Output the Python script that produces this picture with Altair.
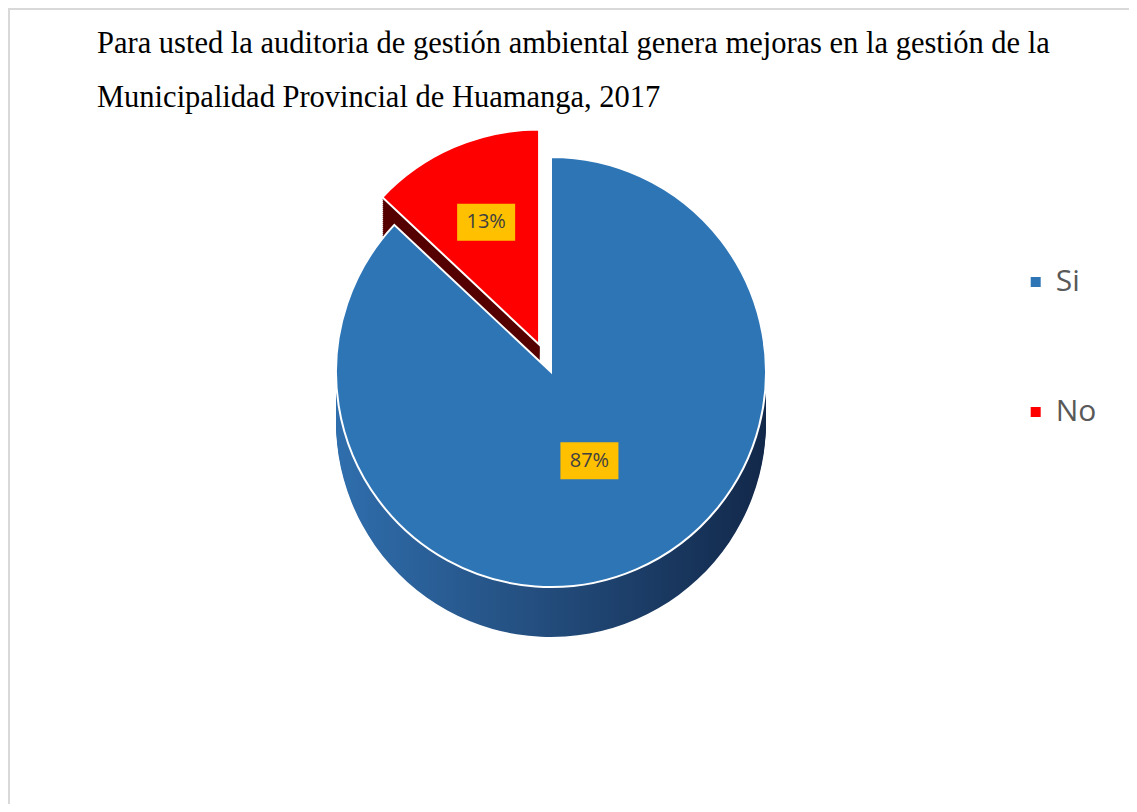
import math
import altair as alt
import pandas as pd

# ---- data ----
categories = ["Si", "No"]
values = [87, 13]
labels = ["87%", "13%"]
order = [0, 1]
top_colors = ["#2E75B6", "#FF0000"]
title_lines = [
    "Para usted la auditoria de gestión ambiental genera mejoras en la gestión de la",
    "Municipalidad Provincial de Huamanga, 2017",
]

df = pd.DataFrame({"cat": categories, "val": values, "label": labels, "order": order})

# ---- layout / style ----
W, H = 1121, 796
CX, CY = 543, 364
R = 215
DEPTH = 50
EXPLODE = 30
total = sum(values)

start_no = values[0] / total * 360
mid_no = math.radians(start_no + values[1] / total * 360 / 2)
EX = EXPLODE * math.sin(mid_no)
EY = -EXPLODE * math.cos(mid_no)
centers = {"Si": (CX, CY), "No": (CX + EX, CY + EY)}
label_frac = {"Si": 0.45, "No": 0.62}

side_fill = {
    "Si": alt.LinearGradient(
        gradient="linear",
        stops=[
            alt.GradientStop(color="#2F6EAD", offset=0),
            alt.GradientStop(color="#244F80", offset=0.45),
            alt.GradientStop(color="#12284A", offset=1),
        ],
        x1=0, x2=1, y1=0, y2=0,
    ),
    "No": "#560000",
}

theta_scale = alt.Scale(domain=[0, total], range=[0, 2 * math.pi])
color_scale = alt.Scale(domain=categories, range=top_colors)

base = alt.Chart(df).transform_window(
    cum="sum(val)", sort=[alt.SortField("order", order="ascending")], frame=[None, 0]
).transform_calculate(
    start="datum.cum - datum.val",
    end="datum.cum",
    mid="datum.cum - datum.val / 2",
)

theta_enc = dict(
    theta=alt.Theta("start:Q", scale=theta_scale),
    theta2=alt.Theta2("end:Q"),
)

layers = []

# border (top and left edges visible in reference)
blank = alt.Data(values=[{"k": 1}])
layers.append(
    alt.Chart(blank).mark_rule(color="#D9D9D9", strokeWidth=2).encode(
        x=alt.value(0), x2=alt.value(W), y=alt.value(1)
    )
)
layers.append(
    alt.Chart(blank).mark_rule(color="#D9D9D9", strokeWidth=2).encode(
        x=alt.value(1), y=alt.value(0), y2=alt.value(H)
    )
)

def slice_layers(cat):
    cx, cy = centers[cat]
    sub = base.transform_filter(alt.datum.cat == cat)
    out = []
    for d in range(DEPTH, 0, -2):
        out.append(
            sub.mark_arc(radius=R, fill=side_fill[cat]).encode(
                x=alt.value(cx), y=alt.value(cy + d), **theta_enc
            )
        )
    out.append(
        sub.mark_arc(radius=R, stroke="white", strokeWidth=2).encode(
            x=alt.value(cx),
            y=alt.value(cy),
            color=alt.Color(
                "cat:N",
                scale=color_scale,
                legend=alt.Legend(
                    title=None,
                    orient="none",
                    legendX=1012.7,
                    legendY=259,
                    symbolType="square",
                    symbolSize=100,
                    symbolStrokeWidth=0,
                    labelFont="Open Sans",
                    labelFontSize=30,
                    labelColor="#595959",
                    labelOffset=5,
                    rowPadding=100,
                ),
            ),
            **theta_enc,
        )
    )
    return out

for c in ["No", "Si"]:
    layers.extend(slice_layers(c))

# data labels with gold boxes
for c in categories:
    cx, cy = centers[c]
    rr = label_frac[c] * R
    lab = base.transform_filter(alt.datum.cat == c).transform_calculate(
        lx=f"{cx} + {rr} * sin(datum.mid / {total} * 2 * PI)",
        ly=f"{cy} - {rr} * cos(datum.mid / {total} * 2 * PI)",
    ).transform_calculate(
        bx1="datum.lx - 29", bx2="datum.lx + 29",
        by1="datum.ly - 18.5", by2="datum.ly + 18.5",
    )
    layers.append(
        lab.mark_rect(color="#FFC000").encode(
            x=alt.X("bx1:Q", scale=None, axis=None),
            x2="bx2:Q",
            y=alt.Y("by1:Q", scale=None, axis=None),
            y2="by2:Q",
        )
    )
    layers.append(
        lab.mark_text(font="Open Sans", fontSize=20, color="#404040",
                      align="center", baseline="middle").encode(
            x=alt.X("lx:Q", scale=None, axis=None),
            y=alt.Y("ly:Q", scale=None, axis=None),
            text="label:N",
        )
    )

# title
layers.append(
    alt.Chart(blank).mark_text(
        text=title_lines, font="Liberation Serif", fontSize=30.5, lineHeight=54,
        align="left", baseline="alphabetic", color="#000000",
    ).encode(x=alt.value(89), y=alt.value(45))
)

chart = alt.layer(*layers).properties(
    width=W, height=H, autosize=alt.AutoSizeParams(type="none"), padding=0,
    background="white",
).configure_view(stroke=None)

chart.save("out.html", embed_options={"renderer": "svg", "actions": False})
